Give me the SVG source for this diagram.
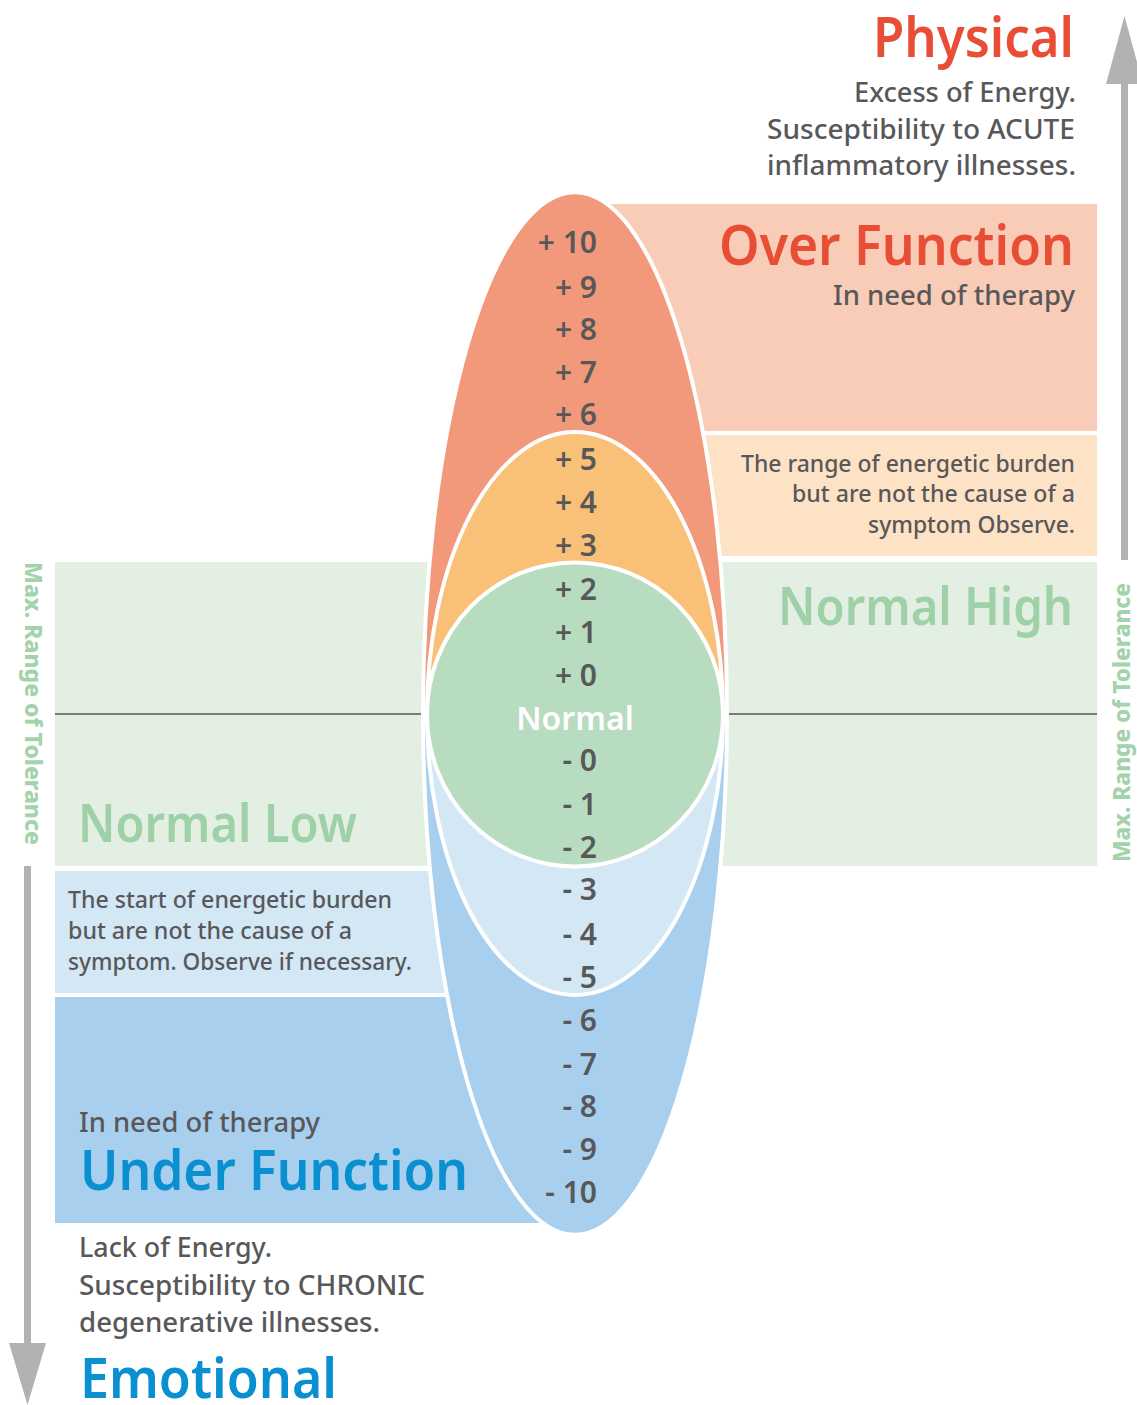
<svg xmlns="http://www.w3.org/2000/svg" width="1137" height="1405" viewBox="0 0 1137 1405">
<style>
text{font-family:"Noto Sans","Open Sans","Liberation Sans",sans-serif}
.head{font-size:56px;font-weight:600}
.red{fill:#e84e36}
.blue{fill:#0a8fd1}
.grn{fill:#9fd1a8;font-weight:600}
.body{font-size:27px;fill:#58585a;font-weight:500}
.small{font-size:23px;fill:#58585a;font-weight:500}
.num{font-size:30px;font-weight:600;fill:#58585a;text-anchor:end}
.shape{stroke:#fff;stroke-width:4}
.vert{font-size:23px;font-weight:800;fill:#a3d2ab}
.arrow{fill:#b2b2b4}
</style>
<rect width="1137" height="1405" fill="#fff"/>
<g id="boxes">
<rect id="box-over" x="575" y="204" width="522" height="227" fill="#f9ccb8"/>
<rect id="box-peach" x="575" y="435" width="522" height="121" fill="#fde2c6"/>
<rect id="box-normal-high" x="575" y="562" width="522" height="304" fill="#e2efe2"/>
<rect id="box-normal-low" x="55" y="562" width="520" height="304" fill="#e2efe2"/>
<rect id="box-lightblue" x="55" y="871" width="520" height="122" fill="#d3e7f5"/>
<rect id="box-under" x="55" y="997" width="520" height="226" fill="#a8cfee"/>
</g>
<g id="connectors">
<line x1="55" y1="714" x2="1097" y2="714" stroke="#7a7a7a" stroke-width="2"/>
<rect class="arrow" x="1121" y="83" width="7" height="477"/>
<polygon class="arrow" points="1124.5,16 1106,84 1143,84"/>
<rect class="arrow" x="24" y="866" width="7" height="478"/>
<polygon class="arrow" points="9,1343 46,1343 27.5,1405"/>
</g>
<g id="scale">
<path id="ellipse-over" class="shape" d="M 423 714 A 152 522 0 0 1 727 714 Z" fill="#f3997b"/>
<path id="ellipse-under" class="shape" d="M 423 714 A 152 521 0 0 0 727 714 Z" fill="#a8cfee"/>
<path id="ellipse-high" class="shape" d="M 427 714 A 148 282 0 0 1 723 714 Z" fill="#f9c077"/>
<path id="ellipse-low" class="shape" d="M 427 714 A 148 281 0 0 0 723 714 Z" fill="#d3e7f5"/>
<ellipse id="circle-normal" class="shape" cx="575" cy="714.5" rx="148" ry="152" fill="#b8dcbf"/>
</g>
<g id="numbers">
<text class="num" x="597" y="253">+ 10</text>
<text class="num" x="597" y="298">+ 9</text>
<text class="num" x="597" y="340">+ 8</text>
<text class="num" x="597" y="383">+ 7</text>
<text class="num" x="597" y="425">+ 6</text>
<text class="num" x="597" y="470">+ 5</text>
<text class="num" x="597" y="513">+ 4</text>
<text class="num" x="597" y="556">+ 3</text>
<text class="num" x="597" y="600">+ 2</text>
<text class="num" x="597" y="643">+ 1</text>
<text class="num" x="597" y="686">+ 0</text>
<text x="575" y="730" font-size="32" font-weight="600" fill="#fff" text-anchor="middle">Normal</text>
<text class="num" x="597" y="771">- 0</text>
<text class="num" x="597" y="815">- 1</text>
<text class="num" x="597" y="858">- 2</text>
<text class="num" x="597" y="900">- 3</text>
<text class="num" x="597" y="945">- 4</text>
<text class="num" x="597" y="988">- 5</text>
<text class="num" x="597" y="1031">- 6</text>
<text class="num" x="597" y="1075">- 7</text>
<text class="num" x="597" y="1117">- 8</text>
<text class="num" x="597" y="1160">- 9</text>
<text class="num" x="597" y="1203">- 10</text>
</g>
<g id="physical">
<text class="head red" x="1074" y="57" text-anchor="end" textLength="201" lengthAdjust="spacingAndGlyphs">Physical</text>
<text class="body" x="1076" y="102" text-anchor="end" textLength="222" lengthAdjust="spacingAndGlyphs">Excess of Energy.</text>
<text class="body" x="1075" y="139" text-anchor="end" textLength="308" lengthAdjust="spacingAndGlyphs">Susceptibility to ACUTE</text>
<text class="body" x="1076" y="175" text-anchor="end" textLength="309" lengthAdjust="spacingAndGlyphs">inflammatory illnesses.</text>
</g>
<g id="over-function">
<text class="head red" x="1074" y="265" text-anchor="end" textLength="355" lengthAdjust="spacingAndGlyphs">Over Function</text>
<text class="body" x="1075" y="305" text-anchor="end" textLength="242" lengthAdjust="spacingAndGlyphs">In need of therapy</text>
</g>
<g id="range-high">
<text class="small" x="1075" y="472" text-anchor="end" textLength="334" lengthAdjust="spacingAndGlyphs">The range of energetic burden</text>
<text class="small" x="1075" y="502" text-anchor="end" textLength="283" lengthAdjust="spacingAndGlyphs">but are not the cause of a</text>
<text class="small" x="1075" y="533" text-anchor="end" textLength="207" lengthAdjust="spacingAndGlyphs">symptom Observe.</text>
</g>
<g id="normal-high">
<text class="grn" font-size="52" x="1073" y="625" text-anchor="end" textLength="295" lengthAdjust="spacingAndGlyphs">Normal High</text>
</g>
<g id="normal-low">
<text class="grn" font-size="52" x="78" y="842" textLength="279" lengthAdjust="spacingAndGlyphs">Normal Low</text>
</g>
<g id="range-low">
<text class="small" x="68" y="908" textLength="324" lengthAdjust="spacingAndGlyphs">The start of energetic burden</text>
<text class="small" x="68" y="939" textLength="284" lengthAdjust="spacingAndGlyphs">but are not the cause of a</text>
<text class="small" x="68" y="970" textLength="344" lengthAdjust="spacingAndGlyphs">symptom. Observe if necessary.</text>
</g>
<g id="under-function">
<text class="body" x="79" y="1132" textLength="241" lengthAdjust="spacingAndGlyphs">In need of therapy</text>
<text class="head blue" x="80" y="1190" textLength="388" lengthAdjust="spacingAndGlyphs">Under Function</text>
</g>
<g id="emotional">
<text class="body" x="79" y="1257" textLength="193" lengthAdjust="spacingAndGlyphs">Lack of Energy.</text>
<text class="body" x="79" y="1295" textLength="346" lengthAdjust="spacingAndGlyphs">Susceptibility to CHRONIC</text>
<text class="body" x="79" y="1332" textLength="301" lengthAdjust="spacingAndGlyphs">degenerative illnesses.</text>
<text class="head blue" x="80" y="1398" textLength="257" lengthAdjust="spacingAndGlyphs">Emotional</text>
</g>
<g id="tolerance-left">
<text class="vert" transform="translate(25,562) rotate(90)" textLength="283" lengthAdjust="spacingAndGlyphs">Max. Range of Tolerance</text>
</g>
<g id="tolerance-right">
<text class="vert" transform="translate(1130,862) rotate(-90)" textLength="279" lengthAdjust="spacingAndGlyphs">Max. Range of Tolerance</text>
</g>
</svg>
